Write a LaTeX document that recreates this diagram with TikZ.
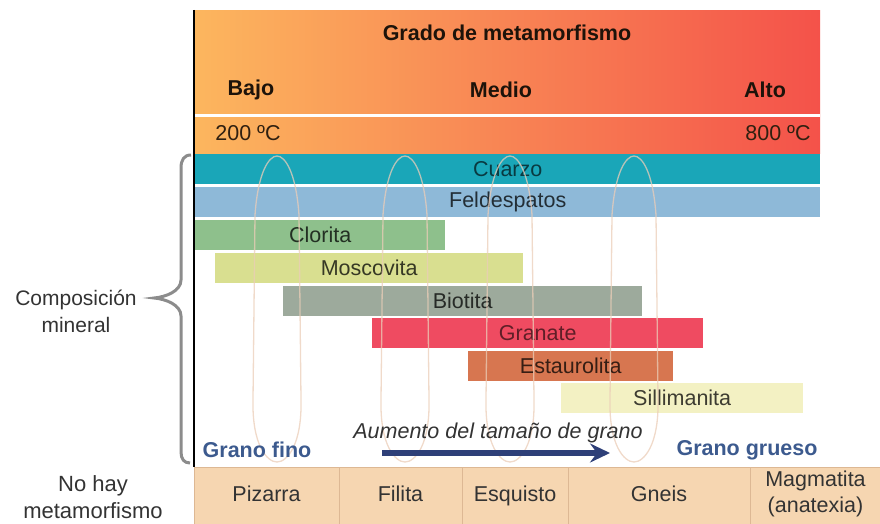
\documentclass[tikz,border=0pt]{standalone}
\usepackage{fontspec}
\setmainfont{Liberation Sans}
\usepackage{tikz}
\usetikzlibrary{positioning,arrows.meta}
\definecolor{hdrleft}{HTML}{FCB65E}
\definecolor{hdrmid}{HTML}{FB8D50}
\definecolor{hdrright}{HTML}{F4524A}
\definecolor{cuarzo}{HTML}{1AA6B8}
\definecolor{feldesp}{HTML}{8EB9D8}
\definecolor{clorita}{HTML}{8EC08C}
\definecolor{moscov}{HTML}{D9DF90}
\definecolor{biotita}{HTML}{9DAA9C}
\definecolor{granate}{HTML}{EF4B61}
\definecolor{estaur}{HTML}{D77650}
\definecolor{sillim}{HTML}{F3F1C3}
\definecolor{rockfill}{HTML}{F6D6B1}
\definecolor{rockline}{HTML}{DDB894}
\definecolor{granoblue}{HTML}{3C5A8E}
\definecolor{arrowblue}{HTML}{2E3F78}
\definecolor{ringcol}{HTML}{EBCDB8}
\definecolor{bracegray}{HTML}{8C8C8C}

\begin{document}
\begin{tikzpicture}[x=1pt,y=-1pt,
  bar/.style={anchor=west,inner sep=0pt,minimum height=30pt,
              font=\fontsize{21.5}{24}\selectfont},
  hdr/.style={font=\bfseries\fontsize{21.5}{24}\selectfont,text=black!85!brown},
  temp/.style={font=\fontsize{21.5}{24}\selectfont,text=black!75!brown},
  grano/.style={font=\bfseries\fontsize{21.5}{24}\selectfont,text=granoblue},
  rock/.style={draw=rockline,fill=rockfill,inner sep=0pt,minimum height=58pt,
               align=center,font=\fontsize{21.5}{26}\selectfont,text=black!80,
               execute at begin node=\strut},
  side/.style={align=center,font=\fontsize{21}{27}\selectfont,text=black!80},
  ring/.style={draw=ringcol,line width=1.3pt,opacity=.75},
  brc/.style={draw=bracegray,line width=3pt},
  arr/.style={-{Stealth[length=20pt,width=19pt,inset=7pt]},arrowblue,line width=5.5pt}]
\useasboundingbox (0,0) rectangle (880,524);
% header
\shade[left color=hdrleft,middle color=hdrmid,right color=hdrright] (195,11) rectangle (820,153);
\draw[white,line width=3pt] (195,116) -- (820,116);
\node[hdr] (grado) at (507,33) {Grado de metamorfismo};
\node[hdr] (bajo) at (251,90) {Bajo};
\node[hdr] (medio) at (501,90) {Medio};
\node[hdr] (alto) at (765,90) {Alto};
\node[temp] (tlow) at (248,133) {200 ºC};
\node[temp] (thigh) at (778,133) {800 ºC};
% minerals
\node[bar,fill=cuarzo,minimum width=625pt,text=cuarzo!35!black] (cua) at (195,169) {Cuarzo};
\node[bar,fill=feldesp,minimum width=625pt,text=feldesp!25!black] (fel) at (195,202) {Feldespatos};
\node[bar,fill=clorita,minimum width=250pt,text=clorita!25!black] (clo) at (195,235) {Clorita};
\node[bar,fill=moscov,minimum width=308pt,text=moscov!25!black] (mos) at (215,268) {Moscovita};
\node[bar,fill=biotita,minimum width=359pt,text=biotita!25!black] (bio) at (283,301) {Biotita};
\node[bar,fill=granate,minimum width=331pt,text=granate!40!black] (gra) at (372,333) {Granate};
\node[bar,fill=estaur,minimum width=205pt,text=estaur!25!black] (est) at (468,366) {Estaurolita};
\node[bar,fill=sillim,minimum width=242pt,text=sillim!25!black] (sil) at (561,398) {Sillimanita};
% grain loops
\foreach \cx in {277,405,510,634}
  \draw[ring] (\cx,156) .. controls (\cx-8,156) and (\cx-19,172) .. (\cx-22,215)
    -- (\cx-24,400) .. controls (\cx-25,445) and (\cx-10,462) .. (\cx,462)
    .. controls (\cx+10,462) and (\cx+25,445) .. (\cx+24,400)
    -- (\cx+22,215) .. controls (\cx+19,172) and (\cx+8,156) .. (\cx,156);
% grain size
\node[grano] (fino) at (257,450) {Grano fino};
\node[grano] (grueso) at (747,450) {Grano grueso};
\node[font=\itshape\fontsize{21.5}{24}\selectfont,text=black!80] (aum) at (498,433) {Aumento del tamaño de grano};
\coordinate (a0) at (382,453);
\coordinate (a1) at (610,453);
\draw[arr] (a0) -- (a1);
% axis and brace
\coordinate (ax0) at (194,10);
\coordinate (ax1) at (194,467);
\draw[black,line width=2.5pt] (ax0) -- (ax1);
\draw[brc] (191,155) .. controls (184,155) and (181,160) .. (181,168) -- (181,280)
  .. controls (181,291) and (166,297) .. (154,298)
  .. controls (166,299) and (181,305) .. (181,316) -- (181,452)
  .. controls (181,459) and (184,463) .. (190,463);
\node[side] (comp) at (76,311) {Composición\\mineral};
% rocks
\node[side,font=\fontsize{22}{27}\selectfont] (nohay) at (93,497) {No hay\\metamorfismo};
\node[rock,minimum width=145pt] (piz) at (266.5,496) {Pizarra};
\node[rock,minimum width=123pt] (fil) at (400.5,496) {Filita};
\node[rock,minimum width=106pt] (esq) at (515,496) {Esquisto};
\node[rock,minimum width=182pt] (gne) at (659,496) {Gneis};
\node[rock,minimum width=131pt] (mag) at (815.5,496) {Magmatita\\(anatexia)};
\end{tikzpicture}
\end{document}
